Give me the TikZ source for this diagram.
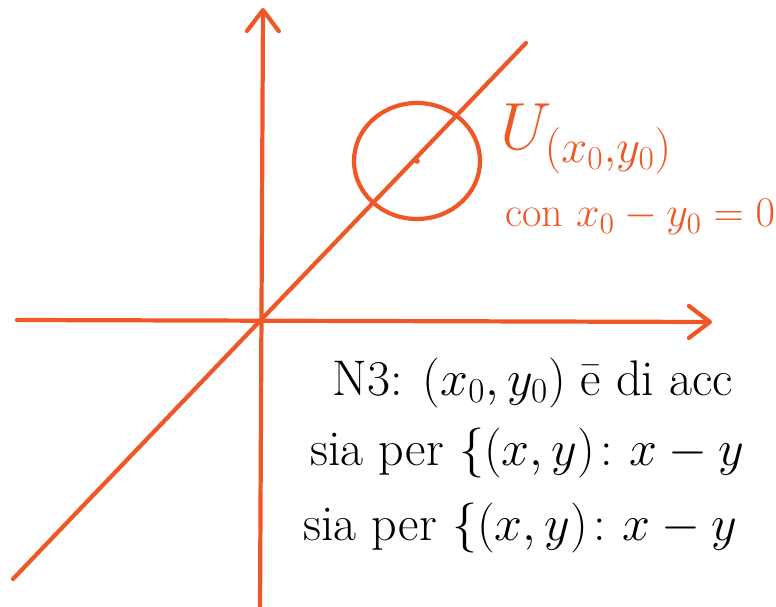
\RequirePackage{fix-cm}
\documentclass[tikz,border=0pt]{standalone}
\usepackage{amsmath}
\usepackage{fontspec}
\usepackage{xcolor}
\usepackage{tikz}
\usetikzlibrary{arrows.meta}
\definecolor{PenOrange}{RGB}{239,88,38}

\begin{document}
\begin{tikzpicture}[x=0.02cm,y=-0.02cm,
pen/.style={draw=PenOrange,line width=2.4pt,line cap=round},
axis/.style={pen,-{Straight Barb[length=4.2mm,width=6.4mm,round]}},
orng/.style={text=PenOrange,inner sep=0pt,anchor=base west},
blk/.style={text=black,inner sep=0pt,anchor=base west,font=\fontsize{28.5}{34}\selectfont}
]
\useasboundingbox (0,0) rectangle (776,607);
\clip (0,0) rectangle (776,607);
% axes and the line x=y
\coordinate (o) at (262,319);
\coordinate (xl) at (17,320);
\coordinate (xr) at (712,322);
\coordinate (yb) at (260,610);
\coordinate (yt) at (263,8);
\coordinate (dl) at (13,579);
\coordinate (du) at (526,43);
\coordinate (c) at (417,161);
\draw[axis] (xl)--(xr);
\draw[axis] (yb)--(yt);
\draw[pen] (dl)--(du);
% neighbourhood
\draw[pen] (c) ellipse [x radius=1.26cm,y radius=1.16cm];
\fill[PenOrange] (c) circle (1.6pt);
\node[orng,font=\fontsize{38}{44}\selectfont] (u) at (500,150) {$U_{(x_0,y_0)}$};
\node[orng,font=\fontsize{24}{28}\selectfont] (cond) at (505,227) {con $x_0-y_0=0$};
% text
\node[blk] (n3) at (332,395) {N3: $(x_0,y_0)$ \={e} di acc};
\node[blk] (s1) at (310,465) {sia per $\{(x,y)\colon x-y$};
\node[blk] (s2) at (303,540) {sia per $\{(x,y)\colon x-y$};
\end{tikzpicture}
\end{document}
